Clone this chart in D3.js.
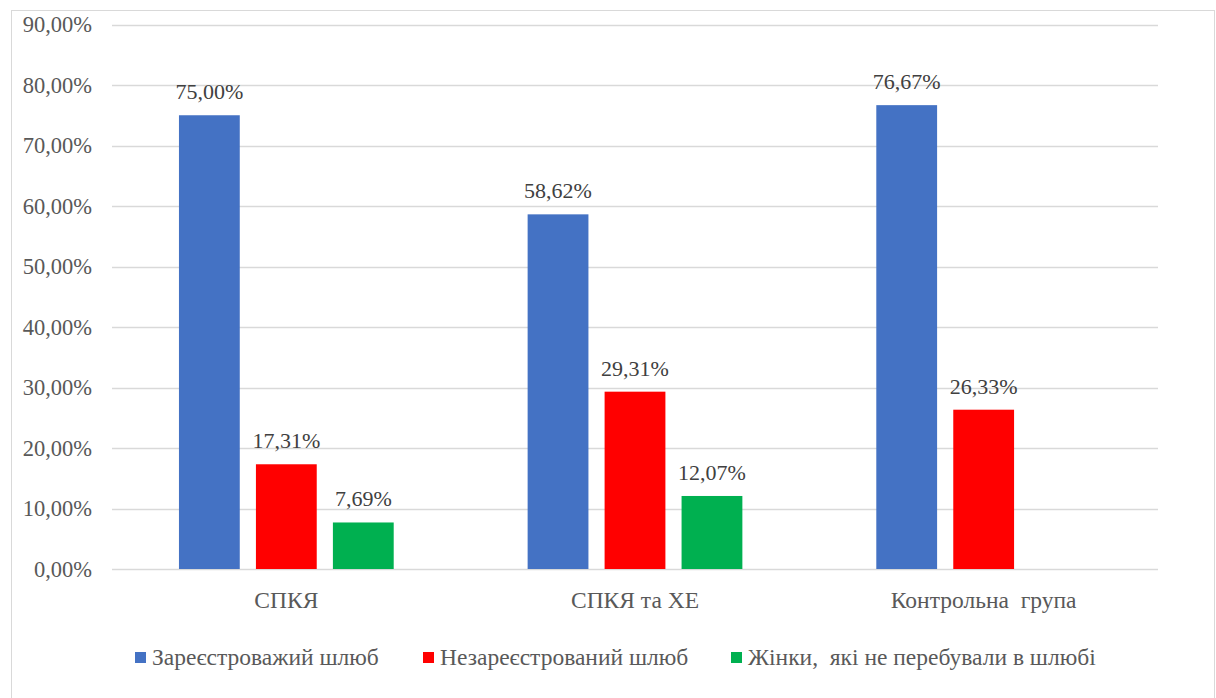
<!DOCTYPE html>
<html>
<head>
<meta charset="utf-8">
<script src="https://cdn.jsdelivr.net/npm/d3@7"></script>
<style>
  html, body { margin: 0; padding: 0; background: #fff; }
  svg text { font-family: "Liberation Serif", "Times New Roman", serif; white-space: pre; }
</style>
</head>
<body>
<svg id="chart" width="1216" height="698"></svg>
<script>
// Categories and series
const categories = ["СПКЯ", "СПКЯ та ХЕ", "Контрольна  група"];
const seriesNames = ["Зареєстроважий шлюб", "Незареєстрований шлюб", "Жінки,  які не перебували в шлюбі"];
const seriesColors = ["#4472C4", "#FF0000", "#00B050"];
// Values per series (percent), null where no bar exists
const registered   = [75.00, 58.62, 76.67];
const unregistered = [17.31, 29.31, 26.33];
const notMarried   = [7.69, 12.07, null];
const yTicks = [0, 10, 20, 30, 40, 50, 60, 70, 80, 90];

const seriesValues = [registered, unregistered, notMarried];
const fmt = v => v.toFixed(2).replace(".", ",") + "%";
const FONT = "'Liberation Serif', 'Times New Roman', serif";

const svg = d3.select("#chart");

// Outer frame
svg.append("rect")
  .attr("x", 11.5).attr("y", 10.5)
  .attr("width", 1203).attr("height", 700)
  .attr("fill", "#fff").attr("stroke", "#d9d9d9").attr("stroke-width", 1);

const plot = { left: 112, right: 1158, top: 24.5, bottom: 569 };

const y = d3.scaleLinear().domain([0, 90]).range([plot.bottom, plot.top]);
const x0 = d3.scaleBand().domain(categories).range([plot.left, plot.right]).padding(0);
const x1 = d3.scaleBand().domain(d3.range(seriesNames.length))
  .range([0, x0.bandwidth()]).paddingInner(0.21).paddingOuter(0.87);

// Gridlines
svg.append("g").selectAll("line").data(yTicks).join("line")
  .attr("x1", plot.left).attr("x2", plot.right)
  .attr("y1", d => Math.round(y(d)) + 0.5).attr("y2", d => Math.round(y(d)) + 0.5)
  .attr("stroke", "#d9d9d9").attr("stroke-width", 1.5);

// Y axis labels
const yAxis = d3.axisLeft(y).tickValues(yTicks).tickSize(0).tickPadding(0)
  .tickFormat(d => fmt(d));
svg.append("g").attr("transform", `translate(92,0)`).call(yAxis)
  .attr("font-family", null).attr("font-size", null)
  .call(g => g.select(".domain").remove())
  .call(g => g.selectAll("text")
    .style("font-family", FONT).style("font-size", "22.5px")
    .attr("fill", "#595959"));

// Bars
const groups = svg.append("g").selectAll("g").data(categories).join("g")
  .attr("transform", d => `translate(${x0(d)},0)`);

const cells = groups.selectAll("g.cell")
  .data((c, ci) => seriesValues.map((vals, si) => ({ si, v: vals[ci] })).filter(d => d.v != null))
  .join("g").attr("class", "cell");

cells.append("rect")
  .attr("x", d => x1(d.si))
  .attr("width", x1.bandwidth())
  .attr("y", d => y(d.v))
  .attr("height", d => y(0) - y(d.v))
  .attr("fill", d => seriesColors[d.si]);

cells.append("text")
  .attr("x", d => x1(d.si) + x1.bandwidth() / 2)
  .attr("y", d => y(d.v) - 16)
  .attr("text-anchor", "middle")
  .style("font-family", FONT).style("font-size", "22px")
  .attr("fill", "#404040")
  .text(d => fmt(d.v));

// Category labels
const xAxis = d3.axisBottom(x0).tickSize(0).tickPadding(0);
svg.append("g").attr("transform", `translate(0,${plot.bottom + 21})`).call(xAxis)
  .attr("font-family", null).attr("font-size", null)
  .call(g => g.select(".domain").remove())
  .call(g => g.selectAll("text")
    .style("font-family", FONT).style("font-size", "23.5px")
    .attr("fill", "#595959")
    .attr("dy", "0.75em"));

// Legend
const legendX = [135, 423, 731];
const legend = svg.append("g").selectAll("g").data(seriesNames).join("g")
  .attr("transform", (d, i) => `translate(${legendX[i]},652)`);
legend.append("rect").attr("width", 11).attr("height", 11)
  .attr("fill", (d, i) => seriesColors[i]);
legend.append("text").attr("x", 17).attr("y", 12.5)
  .style("font-family", FONT).style("font-size", "23.5px")
  .attr("fill", "#595959")
  .text(d => d);
</script>
</body>
</html>
